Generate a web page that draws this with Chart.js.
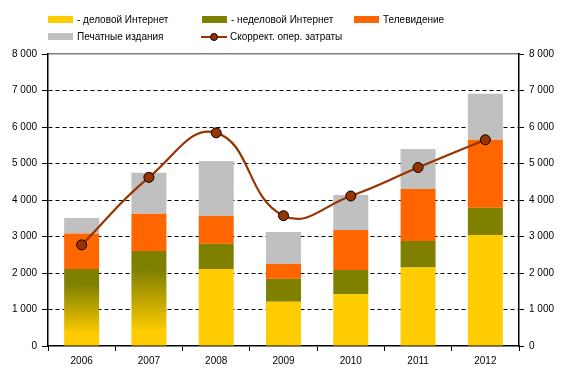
<!DOCTYPE html>
<html>
<head>
<meta charset="utf-8">
<script src="https://cdn.jsdelivr.net/npm/chart.js@4/dist/chart.umd.min.js"></script>
<style>
  body { margin: 0; background: #fff; }
  #wrap { position: relative; width: 582px; height: 382px; }
  #legend { position: absolute; left: 0; top: 0; width: 582px; height: 50px;
    font-family: "Liberation Sans", Arial, sans-serif; font-size: 10px; color: #000; }
  .item { position: absolute; white-space: nowrap; line-height: 12px; }
  .sw { position: absolute; width: 25px; height: 7px; }
</style>
</head>
<body>
<div id="wrap">
  <canvas id="myChart" width="582" height="382"></canvas>
  <div id="legend"></div>
</div>
<script>
const years = ['2006', '2007', '2008', '2009', '2010', '2011', '2012'];
// для 2006-2007 интернет не разделён (градиентный столбец)
const bizInternet = [2110, 2600, 2110, 1210, 1420, 2150, 3040];
const otherInternet = [0, 0, 690, 630, 660, 730, 750];
const tv = [970, 1020, 760, 410, 1100, 1420, 1860];
const print = [430, 1130, 1510, 870, 960, 1100, 1260];
const opex = [2770, 4620, 5840, 3570, 4110, 4890, 5650];
const yTicks = [0, 1000, 2000, 3000, 4000, 5000, 6000, 7000, 8000];

const YELLOW = '#FFCC00', OLIVE = '#808000', ORANGE = '#FF6600', GREY = '#C0C0C0', BROWN = '#993300';

function fmt(v) {
  return String(v).replace(/\B(?=(\d{3})+(?!\d))/g, ' ');
}

function yellowFill(ctx) {
  const i = ctx.dataIndex;
  if (i > 1) return YELLOW;
  const chart = ctx.chart;
  const ys = chart.scales.y;
  if (!ys || !chart.chartArea) return YELLOW;
  const top = ys.getPixelForValue(bizInternet[i]);
  const bottom = ys.getPixelForValue(0);
  const g = chart.ctx.createLinearGradient(0, top, 0, bottom);
  g.addColorStop(0, OLIVE);
  g.addColorStop(0.2, OLIVE);
  g.addColorStop(0.85, YELLOW);
  g.addColorStop(1, YELLOW);
  return g;
}

const data = {
  labels: years,
  datasets: [
    {
      type: 'line',
      label: 'Скоррект. опер. затраты',
      data: opex,
      borderColor: BROWN,
      borderWidth: 2.2,
      tension: 0.45,
      pointRadius: 5,
      pointBackgroundColor: BROWN,
      pointBorderColor: '#000',
      pointBorderWidth: 1,
      order: 0
    },
    { label: '- деловой Интернет', data: bizInternet, backgroundColor: yellowFill, stack: 's', order: 1 },
    { label: '- неделовой Интернет', data: otherInternet, backgroundColor: OLIVE, stack: 's', order: 1 },
    { label: 'Телевидение', data: tv, backgroundColor: ORANGE, stack: 's', order: 1 },
    { label: 'Печатные издания', data: print, backgroundColor: GREY, stack: 's', order: 1 }
  ]
};

const font = { family: '"Liberation Sans", Arial, sans-serif', size: 10 };

const yAxisBase = {
  min: 0,
  max: 8000,
  afterBuildTicks: function(s) { s.ticks = yTicks.map(v => ({ value: v })); },
  ticks: { color: '#000', font: font, padding: 5, callback: v => fmt(v) },
  border: { color: '#000', width: 1.5, dash: [4, 3] }
};

const config = {
  type: 'bar',
  data: data,
  options: {
    responsive: false,
    animation: false,
    layout: { padding: { top: 54, left: 0, right: 0, bottom: 0 } },
    plugins: { legend: { display: false }, tooltip: { enabled: false } },
    datasets: { bar: { barPercentage: 1, categoryPercentage: 0.52 } },
    scales: {
      x: {
        stacked: true,
        grid: { offset: true, drawOnChartArea: false, tickLength: 5, tickColor: '#000', tickWidth: 1 },
        border: { color: '#000', width: 1.5 },
        ticks: { color: '#000', font: font, padding: 4 },
        afterFit: s => { s.height = 36; }
      },
      xTop: {
        position: 'top',
        grid: { display: false, drawTicks: false },
        ticks: { display: false },
        border: { color: '#808080', width: 1.5 },
        afterFit: s => { s.height = 0; }
      },
      y: Object.assign({}, yAxisBase, {
        stacked: true,
        position: 'left',
        grid: {
          color: c => (c.tick && (c.tick.value === 0 || c.tick.value === 8000)) ? 'rgba(0,0,0,0)' : '#000',
          lineWidth: 1,
          tickLength: 6,
          tickColor: '#000',
          tickBorderDash: []
        },
        afterFit: s => { s.width = 48; }
      }),
      y2: Object.assign({}, yAxisBase, {
        position: 'right',
        grid: { drawOnChartArea: false, tickLength: 5, tickColor: '#000', tickBorderDash: [] },
        border: { color: '#000', width: 1.5 },
        afterFit: s => { s.width = 63; }
      })
    }
  }
};

const myChart = new Chart(document.getElementById('myChart'), config);

// легенда
const legendItems = [
  { text: '- деловой Интернет', color: YELLOW, x: 48, y: 14 },
  { text: '- неделовой Интернет', color: OLIVE, x: 202, y: 14 },
  { text: 'Телевидение', color: ORANGE, x: 354, y: 14 },
  { text: 'Печатные издания', color: GREY, x: 48, y: 31 },
  { text: 'Скоррект. опер. затраты', line: true, x: 201, y: 31 }
];
const legend = document.getElementById('legend');
legendItems.forEach(it => {
  const d = document.createElement('div');
  d.className = 'item';
  d.style.left = (it.x + 29) + 'px';
  d.style.top = (it.y) + 'px';
  d.textContent = it.text;
  legend.appendChild(d);
  if (it.line) {
    const l = document.createElement('div');
    l.style.cssText = 'position:absolute;left:' + it.x + 'px;top:' + (it.y + 5) + 'px;width:26px;height:2px;background:' + BROWN;
    legend.appendChild(l);
    const m = document.createElement('div');
    m.style.cssText = 'position:absolute;left:' + (it.x + 9) + 'px;top:' + (it.y + 2) + 'px;border-radius:50%;background:' + BROWN + ';border:1px solid #000;box-sizing:border-box;width:8px;height:8px';
    legend.appendChild(m);
  } else {
    const s = document.createElement('div');
    s.className = 'sw';
    s.style.left = it.x + 'px';
    s.style.top = (it.y + 2) + 'px';
    s.style.background = it.color;
    legend.appendChild(s);
  }
});
</script>
</body>
</html>
